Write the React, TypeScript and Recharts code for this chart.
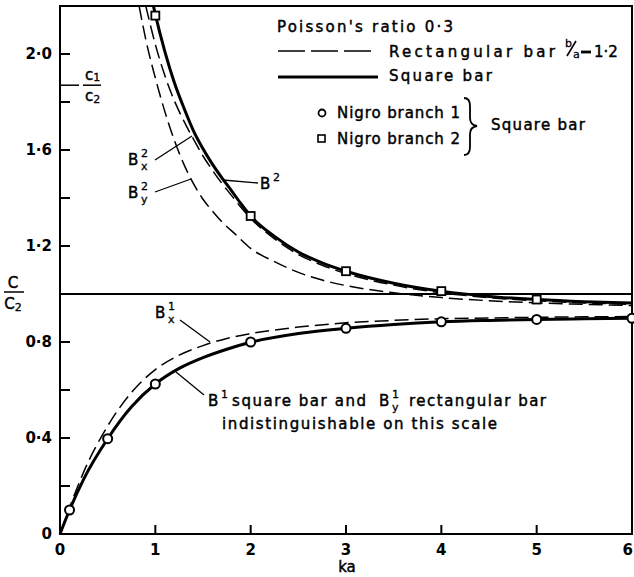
import React from "react";
import {
  ComposedChart,
  Line,
  Scatter,
  XAxis,
  YAxis,
  ReferenceLine,
  ReferenceArea,
} from "recharts";

// ---- data (ka on x, c/c2 on y) ----

// upper branch, square bar (solid)
const kaB2 = [0.98, 1.0, 1.1, 1.2, 1.3, 1.4, 1.5, 1.6, 1.7, 1.8, 1.9, 2.0, 2.25, 2.5, 2.75, 3.0, 3.5, 4.0, 4.5, 5.0, 5.5, 6.0];
const b2Square = [2.2, 2.165, 2.01, 1.88, 1.775, 1.68, 1.605, 1.54, 1.483, 1.43, 1.375, 1.325, 1.24, 1.175, 1.13, 1.095, 1.045, 1.012, 0.99, 0.977, 0.968, 0.962];

// upper branch, rectangular bar, x-polarised (dashed)
const kaB2x = [0.9, 1.0, 1.1, 1.2, 1.3, 1.4, 1.5, 1.6, 1.7, 1.8, 1.9, 2.0, 2.25, 2.5, 2.75, 3.0, 3.5, 4.0, 4.5, 5.0, 5.5, 6.0];
const b2xRect = [2.2, 2.04, 1.91, 1.805, 1.72, 1.645, 1.575, 1.515, 1.46, 1.41, 1.36, 1.315, 1.23, 1.165, 1.12, 1.085, 1.037, 1.005, 0.985, 0.972, 0.963, 0.957];

// upper branch, rectangular bar, y-polarised (dashed)
const kaB2y = [0.83, 0.9, 1.0, 1.1, 1.2, 1.3, 1.4, 1.5, 1.6, 1.7, 1.85, 2.0, 2.25, 2.5, 2.75, 3.0, 3.5, 4.0, 4.5, 5.0, 5.5, 6.0];
const b2yRect = [2.2, 2.06, 1.9, 1.76, 1.64, 1.54, 1.46, 1.395, 1.345, 1.3, 1.245, 1.19, 1.135, 1.09, 1.058, 1.035, 1.005, 0.985, 0.972, 0.963, 0.957, 0.952];

// lower branch, square bar (solid) - B1y of the rectangular bar lies on it
const kaB1 = [0, 0.1, 0.25, 0.5, 0.75, 1.0, 1.25, 1.5, 1.75, 2.0, 2.5, 3.0, 3.5, 4.0, 4.5, 5.0, 5.5, 6.0];
const b1Square = [0, 0.1, 0.23, 0.397, 0.53, 0.625, 0.69, 0.735, 0.77, 0.799, 0.835, 0.857, 0.873, 0.884, 0.89, 0.894, 0.897, 0.899];

// lower branch, rectangular bar, x-polarised (dashed)
const b1xRect = [0, 0.11, 0.26, 0.45, 0.59, 0.685, 0.745, 0.785, 0.815, 0.835, 0.862, 0.88, 0.89, 0.897, 0.9, 0.903, 0.905, 0.906];

// Nigro's results, square bar
const kaNigro1 = [0.1, 0.5, 1, 2, 3, 4, 5, 6];
const nigro1 = [0.1, 0.397, 0.625, 0.8, 0.857, 0.884, 0.894, 0.899];
const kaNigro2 = [1, 2, 3, 4, 5];
const nigro2 = [2.16, 1.325, 1.095, 1.012, 0.977];

const xTicks = [0, 1, 2, 3, 4, 5, 6];
const yTicks = [0, 0.2, 0.4, 0.6, 0.8, 1.0, 1.2, 1.4, 1.6, 1.8, 2.0];
const C1_OVER_C2 = 1.87; // sqrt(2(1-v)/(1-2v)) for v = 0.3

const rows = (xs: number[], ys: number[]) => xs.map((ka, i) => ({ ka, v: ys[i] }));

const FONT = "'DejaVu Sans', sans-serif";
// normal weight thickened a little, the scan's lettering sits between regular and bold
const txt = { fontFamily: FONT, fontSize: 15, fill: "#000", stroke: "#000", strokeWidth: 0.45 } as const;
const small = { ...txt, fontSize: 11, strokeWidth: 0.3 } as const;
const tickTxt = { fontFamily: FONT, fontSize: 15, fontWeight: 700, fill: "#000" } as const;

const dec = (v: number) => (v === 0 ? "0" : v.toFixed(1).replace(".", "\u00b7"));

// text stretched to the width it has in the figure
function T({ x, y, w, children, anchor }: { x: number; y: number; w?: number; children: React.ReactNode; anchor?: string }) {
  return (
    <text
      x={x}
      y={y}
      dy="0.36em"
      textAnchor={anchor}
      style={txt}
      {...(w ? { textLength: w, lengthAdjust: "spacing" } : {})}
    >
      {children}
    </text>
  );
}

// B with a superscript and optional subscript
function Bsym({ x, y, sup, sub }: { x: number; y: number; sup: string; sub?: string }) {
  return (
    <g>
      <text x={x} y={y} dy="0.36em" style={txt}>B</text>
      <text x={x + 13} y={y - 7} dy="0.36em" style={small}>{sup}</text>
      {sub && <text x={x + 13} y={y + 6} dy="0.36em" style={small}>{sub}</text>}
    </g>
  );
}

function YTick(props: any) {
  const { x, y, payload } = props;
  const v = payload.value as number;
  if (v === C1_OVER_C2) {
    return (
      <g>
        <line x1={x} x2={x + 19} y1={y} y2={y} stroke="#000" strokeWidth={1.5} />
        <line x1={x + 23} x2={x + 41} y1={y} y2={y} stroke="#000" strokeWidth={1.5} />
        <text x={x + 25} y={y - 5} style={txt}>
          c<tspan style={small} dy={1}>1</tspan>
        </text>
        <text x={x + 25} y={y + 16} style={txt}>
          c<tspan style={small} dy={2}>2</tspan>
        </text>
      </g>
    );
  }
  const major = Math.round(v * 10) % 4 === 0;
  return (
    <g>
      {v > 0 && <line x1={x} x2={x + 10} y1={y} y2={y} stroke="#000" strokeWidth={2} />}
      {major && (
        <text x={x - 8} y={y} dy="0.36em" textAnchor="end" style={tickTxt}>
          {dec(v)}
        </text>
      )}
    </g>
  );
}

function XTick(props: any) {
  const { x, y, payload } = props;
  const v = payload.value as number;
  const last = v === 6;
  return (
    <g>
      {v > 0 && !last && <line x1={x} x2={x} y1={y} y2={y - 9} stroke="#000" strokeWidth={2} />}
      <text x={last ? x + 1 : x} y={y + 16} dy="0.36em" textAnchor={last ? "end" : "middle"} style={tickTxt}>
        {v}
      </text>
    </g>
  );
}

const Circle = (p: any) => <circle cx={p.cx} cy={p.cy} r={4.5} fill="#fff" stroke="#000" strokeWidth={2} />;
const Square = (p: any) => <rect x={p.cx - 4} y={p.cy - 4} width={8} height={8} fill="#fff" stroke="#000" strokeWidth={1.8} />;

function Legend() {
  return (
    <g>
      <T x={277} y={27} w={176}>Poisson's ratio 0·3</T>
      <line x1={278} x2={377} y1={51} y2={51} stroke="#000" strokeWidth={1.5} strokeDasharray="27 6" />
      <T x={389} y={52} w={166}>Rectangular bar</T>
      <text x={565} y={47} style={small}>b</text>
      <line x1={576} y1={41} x2={567} y2={56} stroke="#000" strokeWidth={1.6} />
      <text x={573} y={58} style={small}>a</text>
      <line x1={581} x2={591} y1={52} y2={52} stroke="#000" strokeWidth={2.8} />
      <T x={594} y={52}>1·2</T>
      <line x1={278} x2={378} y1={77} y2={77} stroke="#000" strokeWidth={3} />
      <T x={389} y={76} w={103}>Square bar</T>
      <circle cx={322} cy={113} r={3.5} fill="#fff" stroke="#000" strokeWidth={1.8} />
      <T x={337} y={113} w={123}>Nigro branch 1</T>
      <rect x={318} y={135} width={7} height={7} fill="#fff" stroke="#000" strokeWidth={1.6} />
      <T x={337} y={139} w={123}>Nigro branch 2</T>
      <path d="M464,98 Q470,98 470,106 L470,118 Q470,125 477,126 Q470,127 470,134 L470,147 Q470,155 464,155" fill="none" stroke="#000" strokeWidth={1.8} />
      <T x={491} y={125} w={94}>Square bar</T>
    </g>
  );
}

function Notes() {
  return (
    <g>
      {/* y axis title */}
      <text x={13} y={288} textAnchor="middle" style={txt}>C</text>
      <line x1={4} x2={24} y1={292} y2={292} stroke="#000" strokeWidth={1.5} />
      <text x={13} y={309} textAnchor="middle" style={txt}>
        C<tspan style={small} dy={2}>2</tspan>
      </text>
      {/* x axis title */}
      <T x={347} y={567} anchor="middle">ka</T>

      {/* B2x, B2y, B2 */}
      <Bsym x={128} y={160} sup="2" sub="x" />
      <line x1={155} y1={160} x2={192} y2={136} stroke="#000" strokeWidth={1.3} />
      <Bsym x={128} y={193} sup="2" sub="y" />
      <line x1={155} y1={192} x2={191} y2={179} stroke="#000" strokeWidth={1.3} />
      <Bsym x={260} y={184} sup="2" />
      <line x1={258} y1={183} x2={223} y2={180} stroke="#000" strokeWidth={1.3} />

      {/* B1x */}
      <Bsym x={155} y={313} sup="1" sub="x" />
      <line x1={180} y1={320} x2={210} y2={342} stroke="#000" strokeWidth={1.3} />

      {/* B1 square / B1y rectangular */}
      <Bsym x={208} y={401} sup="1" />
      <T x={232} y={401} w={134}>square bar and</T>
      <Bsym x={379} y={401} sup="1" sub="y" />
      <T x={409} y={401} w={137}>rectangular bar</T>
      <T x={222} y={424} w={275}>indistinguishable on this scale</T>
      <line x1={204} y1={395} x2={176} y2={372} stroke="#000" strokeWidth={1.3} />
    </g>
  );
}

export default function App() {
  return (
    <div style={{ position: "absolute", left: 0, top: 0, background: "#fff" }}>
      <ComposedChart width={634} height={577} margin={{ top: 6, right: 2, left: 0, bottom: 0 }}>
        <XAxis
          dataKey="ka"
          type="number"
          domain={[0, 6]}
          ticks={xTicks}
          interval={0}
          height={43}
          tickSize={0}
          tickMargin={0}
          axisLine={{ stroke: "#000", strokeWidth: 2 }}
          tick={<XTick />}
        />
        <YAxis
          type="number"
          domain={[0, 2.2]}
          ticks={[...yTicks, C1_OVER_C2]}
          interval={0}
          width={60}
          allowDataOverflow
          tickSize={0}
          tickMargin={0}
          axisLine={{ stroke: "#000", strokeWidth: 2 }}
          tick={<YTick />}
        />
        <ReferenceArea x1={0} x2={6} y1={0} y2={2.2} fill="none" stroke="#000" strokeWidth={2} ifOverflow="visible" />
        <ReferenceLine y={1} stroke="#000" strokeWidth={1.8} />

        <Line data={rows(kaB2y, b2yRect)} dataKey="v" type="monotone" stroke="#000" strokeWidth={1.5} strokeDasharray="14 6" dot={false} isAnimationActive={false} />
        <Line data={rows(kaB2x, b2xRect)} dataKey="v" type="monotone" stroke="#000" strokeWidth={1.5} strokeDasharray="14 6" dot={false} isAnimationActive={false} />
        <Line data={rows(kaB2, b2Square)} dataKey="v" type="monotone" stroke="#000" strokeWidth={3} dot={false} isAnimationActive={false} />
        <Line data={rows(kaB1, b1xRect)} dataKey="v" type="monotone" stroke="#000" strokeWidth={1.5} strokeDasharray="14 6" dot={false} isAnimationActive={false} />
        <Line data={rows(kaB1, b1Square)} dataKey="v" type="monotone" stroke="#000" strokeWidth={3} dot={false} isAnimationActive={false} />

        <Scatter data={rows(kaNigro1, nigro1)} dataKey="v" shape={Circle} isAnimationActive={false} />
        <Scatter data={rows(kaNigro2, nigro2)} dataKey="v" shape={Square} isAnimationActive={false} />

        <Legend />
        <Notes />
      </ComposedChart>
    </div>
  );
}
